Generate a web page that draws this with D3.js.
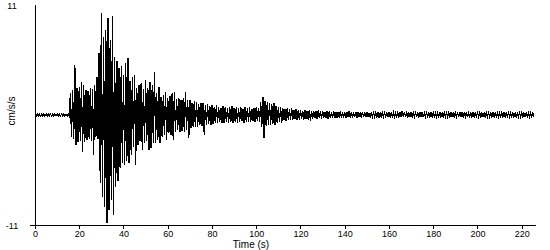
<!DOCTYPE html>
<html>
<head>
  <meta charset=utf-8 />
  <title>Accelerogram</title>
  <style>
    body { margin:0; background:#fff; }
    text {
      fill:#000;
      font-family:Arial, "Liberation Sans", sans-serif;
      font-size:10px;
    }
    .axis path, .axis line { stroke:#000; shape-rendering:crispEdges; }
    .trace { fill:none; stroke:#000; stroke-width:1.3; shape-rendering:crispEdges; }
  </style>
</head>
<body>
  <div id="container"></div>
  <script src="https://d3js.org/d3.v7.min.js"></script>
  <script>

// peak amplitude (cm/s/s) reached in each second, upper and lower side of the trace
var upper = [
  0.1,0.1,0.1,0.1,0.1,0.1,0.1,0.1,0.1,0.1,
  0.1,0.1,0.1,0.1,0.1,0.1,2.2,2.5,5.0,2.7,
  2.8,3.3,3.0,2.5,2.4,2.7,2.6,3.0,3.8,6.2,
  10.2,7.8,8.5,9.7,7.5,9.9,5.8,5.4,4.7,4.9,
  4.0,5.2,5.7,3.4,3.8,4.0,2.7,3.0,3.2,2.6,
  3.5,2.7,3.3,3.0,4.3,2.2,2.8,1.8,2.0,2.3,
  1.7,1.9,2.2,2.3,1.6,1.7,1.5,1.7,2.3,1.5,
  1.5,1.2,1.4,1.3,1.1,1.2,1.2,1.0,1.1,0.9,
  1.0,0.8,1.0,0.8,0.7,0.9,0.8,0.7,0.8,0.9,
  0.7,0.8,0.7,0.8,0.6,0.8,0.7,0.8,0.6,0.7,
  0.8,0.7,1.3,1.8,1.4,1.3,1.2,1.1,1.2,0.9,
  0.8,0.8,0.7,0.6,0.7,0.6,0.7,0.5,0.6,0.5,
  0.5,0.4,0.5,0.4,0.5,0.4,0.35,0.4,0.45,0.35,
  0.4,0.3,0.4,0.35,0.3,0.4,0.33,0.3,0.35,0.3,
  0.25,0.3,0.35,0.3,0.25,0.3,0.3,0.25,0.3,0.28,
  0.25,0.23,0.25,0.2,0.23,0.25,0.2,0.22,0.2,0.25,
  0.22,0.2,0.23,0.2,0.22,0.25,0.4,0.3,0.22,0.2,
  0.22,0.25,0.2,0.28,0.22,0.3,0.2,0.22,0.2,0.2,
  0.22,0.2,0.2,0.25,0.2,0.22,0.2,0.2,0.23,0.2,
  0.22,0.25,0.3,0.22,0.2,0.28,0.2,0.22,0.2,0.2,
  0.2,0.22,0.2,0.2,0.23,0.2,0.2,0.22,0.2,0.2,
  0.2,0.22,0.2,0.18,0.2,0.2,0.22,0.2,0.18,0.2,
  0.2,0.18,0.2,0.2,0.18,0.2
];
var lower = [
  -0.1,-0.1,-0.1,-0.1,-0.1,-0.1,-0.1,-0.1,-0.1,-0.1,
  -0.1,-0.1,-0.1,-0.1,-0.1,-0.1,-2.2,-2.4,-3.0,-2.7,
  -2.6,-3.7,-2.7,-2.5,-2.4,-2.6,-4.0,-2.2,-2.4,-6.8,
  -8.2,-9.2,-10.8,-9.5,-8.5,-10.0,-7.2,-6.6,-5.3,-4.8,
  -5.0,-4.6,-4.8,-4.0,-3.2,-5.0,-3.0,-2.6,-3.5,-2.8,
  -2.6,-3.5,-3.3,-2.8,-2.8,-2.5,-2.8,-2.2,-2.0,-2.5,
  -1.8,-2.0,-2.5,-1.7,-1.5,-1.7,-1.6,-1.7,-1.5,-2.3,
  -1.3,-1.2,-1.2,-1.2,-1.0,-1.1,-2.0,-1.0,-0.9,-1.0,
  -0.9,-0.8,-0.8,-0.7,-0.8,-0.75,-0.7,-0.8,-0.7,-0.75,
  -0.7,-0.8,-0.7,-0.6,-0.75,-0.7,-0.65,-0.7,-0.6,-0.7,
  -0.6,-0.7,-1.2,-2.3,-1.1,-1.0,-1.0,-0.9,-1.0,-0.8,
  -0.7,-0.8,-0.5,-0.55,-0.5,-0.45,-0.5,-0.4,-0.5,-0.45,
  -0.4,-0.45,-0.4,-0.45,-0.6,-0.35,-0.3,-0.35,-0.3,-0.35,
  -0.3,-0.3,-0.35,-0.3,-0.28,-0.3,-0.27,-0.25,-0.28,-0.25,
  -0.27,-0.22,-0.25,-0.27,-0.22,-0.25,-0.2,-0.25,-0.22,-0.2,
  -0.22,-0.18,-0.2,-0.17,-0.18,-0.2,-0.17,-0.18,-0.17,-0.2,
  -0.17,-0.18,-0.2,-0.17,-0.18,-0.17,-0.2,-0.18,-0.17,-0.17,
  -0.18,-0.17,-0.2,-0.17,-0.18,-0.2,-0.17,-0.17,-0.18,-0.17,
  -0.17,-0.18,-0.17,-0.2,-0.17,-0.17,-0.18,-0.17,-0.17,-0.18,
  -0.17,-0.2,-0.18,-0.17,-0.17,-0.2,-0.17,-0.18,-0.17,-0.17,
  -0.17,-0.18,-0.17,-0.17,-0.18,-0.17,-0.17,-0.18,-0.17,-0.17,
  -0.17,-0.17,-0.18,-0.17,-0.17,-0.17,-0.18,-0.17,-0.17,-0.17,
  -0.17,-0.17,-0.16,-0.17,-0.17,-0.16
];
var xTicks = [0,20,40,60,80,100,120,140,160,180,200,220];
var yLabels = [11,-11];

var w = 550, h = 250;

var svg = d3.select("#container").append("svg")
  .attr("width", w)
  .attr("height", h);

var x = d3.scaleLinear().domain([0,226]).range([35,535]);
var y = d3.scaleLinear().domain([-11,11]).range([225,5]);

// trace: up to the upper peak, down to the lower peak, once a second
var pts = [];
for (var i = 0; i < upper.length; i++) {
  pts.push([i, upper[i]]);
  pts.push([i + 0.5, lower[i]]);
}
var line = d3.line()
  .x(function(d) { return x(d[0]); })
  .y(function(d) { return y(d[1]); });

svg.append("path")
  .attr("class","trace")
  .attr("d", line(pts));

// axes
svg.append("g")
  .attr("class","axis")
  .attr("transform","translate(0,225)")
  .call(d3.axisBottom(x).tickValues(xTicks).tickSize(4).tickSizeOuter(0).tickPadding(1.5))
  .call(function(g) { g.selectAll("text").style("font-size","9px").style("font-family","Arial"); });

svg.append("line")
  .attr("x1",35.5).attr("x2",35.5)
  .attr("y1",y(11)).attr("y2",y(-11))
  .attr("stroke","#000");
svg.append("line")
  .attr("x1",30).attr("x2",35)
  .attr("y1",y(-11)+0.5).attr("y2",y(-11)+0.5)
  .attr("stroke","#000");

svg.selectAll(".ylab")
  .data(yLabels)
  .enter().append("text")
  .attr("class","ylab")
  .attr("x",12)
  .attr("y",function(d) { return y(d) + 3.5; })
  .attr("text-anchor","middle")
  .style("font-size","9px")
  .text(function(d) { return d; });

svg.append("text")
  .attr("transform","translate(15,111) rotate(-90)")
  .attr("text-anchor","middle")
  .text("cm/s/s");

svg.append("text")
  .attr("x",251)
  .attr("y",247.7)
  .attr("text-anchor","middle")
  .text("Time (s)");

  </script>
</body>
</html>
